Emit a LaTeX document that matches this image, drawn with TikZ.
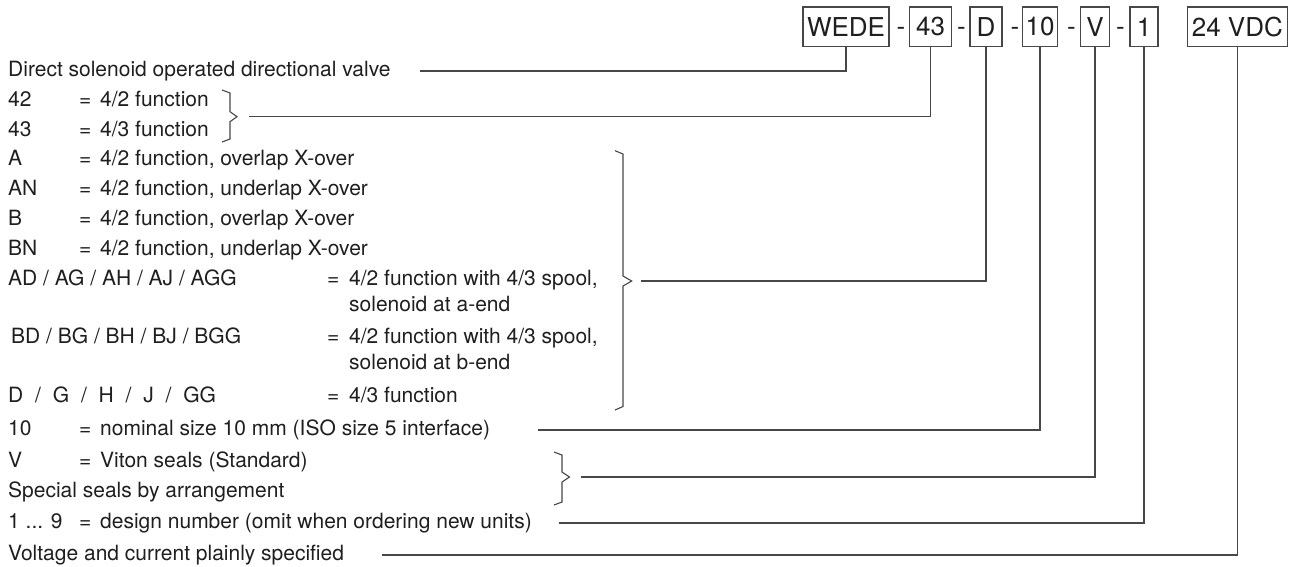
\documentclass[tikz,border=0pt]{standalone}
\usepackage{fontspec}
\setmainfont{TeX Gyre Heros}
\definecolor{textc}{gray}{0.12}
\definecolor{linec}{gray}{0.28}
\tikzset{
 txt/.style={anchor=base west, inner sep=0pt, font=\fontsize{21}{25}\selectfont, text=textc},
 codebox/.style={draw=linec, line width=1.1pt, inner xsep=3pt, inner ysep=0pt, minimum height=39.7pt, font=\fontsize{26}{30}\selectfont, text=textc},
 sepdash/.style={anchor=base, inner sep=0pt, font=\fontsize{26}{30}\selectfont, text=textc},
 conn/.style={draw=linec, line width=1.1pt},
 brace/.style={draw=linec, line width=1.1pt, line join=miter}
}
\begin{document}
\begin{tikzpicture}[x=1pt,y=-1pt]
\useasboundingbox (0,0) rectangle (1294,566);
% code boxes
\node[codebox, minimum width=86pt] (bW) at (846,26.8) {WEDE};
\node[codebox, minimum width=42pt] (b43) at (930.5,26.8) {43};
\node[codebox, minimum width=32pt] (bD) at (986,26.8) {D};
\node[codebox, minimum width=34pt] (b10) at (1040,26.8) {10};
\node[codebox, minimum width=29pt] (bV) at (1095,26.8) {V};
\node[codebox, minimum width=28pt] (b1) at (1144,26.8) {1};
\node[codebox, minimum width=100pt] (b24) at (1237.3,26.8) {24 VDC};
\node[sepdash] (d1) at (901,35) {-};
\node[sepdash] (d2) at (961.5,35) {-};
\node[sepdash] (d3) at (1015,35) {-};
\node[sepdash] (d4) at (1071.5,35) {-};
\node[sepdash] (d5) at (1120.5,35) {-};
% texts
\node[txt] (tDir) at (8,76) {Direct solenoid operated directional valve};
\node[txt] (t42a) at (8,106) {42};
\node[txt] (t42b) at (79,106) {=};
\node[txt] (t42c) at (100,106) {4/2 function};
\node[txt] (t43a) at (8,136) {43};
\node[txt] (t43b) at (79,136) {=};
\node[txt] (t43c) at (100,136) {4/3 function};
\node[txt] (tAa) at (8,165) {A};
\node[txt] (tAb) at (79,165) {=};
\node[txt] (tAc) at (100,165) {4/2 function, overlap X-over};
\node[txt] (tANa) at (8,195) {AN};
\node[txt] (tANb) at (79,195) {=};
\node[txt] (tANc) at (100,195) {4/2 function, underlap X-over};
\node[txt] (tBa) at (8,225) {B};
\node[txt] (tBb) at (79,225) {=};
\node[txt] (tBc) at (100,225) {4/2 function, overlap X-over};
\node[txt] (tBNa) at (8,255) {BN};
\node[txt] (tBNb) at (79,255) {=};
\node[txt] (tBNc) at (100,255) {4/2 function, underlap X-over};
\node[txt] (tADa) at (8,285) {AD / AG / AH / AJ / AGG};
\node[txt] (tADb) at (327,285) {=};
\node[txt] (tADc) at (349,285) {4/2 function with 4/3 spool,};
\node[txt] (tADd) at (349,311) {solenoid at a-end};
\node[txt] (tBDa) at (11,343) {BD / BG / BH / BJ / BGG};
\node[txt] (tBDb) at (327,343) {=};
\node[txt] (tBDc) at (349,343) {4/2 function with 4/3 spool,};
\node[txt] (tBDd) at (349,369) {solenoid at b-end};
\node[txt] (tDGa) at (8,402) {D\hspace{6pt} / \hspace{6pt}G\hspace{6pt} / \hspace{6pt}H\hspace{6pt} / \hspace{6pt}J\hspace{6pt} / \hspace{6pt}GG};
\node[txt] (tDGb) at (327,402) {=};
\node[txt] (tDGc) at (349,402) {4/3 function};
\node[txt] (t10a) at (8,435) {10};
\node[txt] (t10b) at (79,435) {=};
\node[txt] (t10c) at (100,435) {nominal size 10 mm (ISO size 5 interface)};
\node[txt] (tVa) at (8,467) {V};
\node[txt] (tVb) at (79,467) {=};
\node[txt] (tVc) at (100,467) {Viton seals (Standard)};
\node[txt] (tSp) at (8,497) {Special seals by arrangement};
\node[txt] (t19a) at (8,528) {1 ... 9};
\node[txt] (t19b) at (79,528) {=};
\node[txt] (t19c) at (100,528) {design number (omit when ordering new units)};
\node[txt] (tVolt) at (8,560) {Voltage and current plainly specified};
% braces
\draw[brace] (222,90) -- (230,93) -- (230,111.7) -- (237,116.7) -- (230,121.7) -- (230,139) -- (222,142);
\draw[brace] (615,150.7) -- (623,154) -- (623,276) -- (631.7,281) -- (623,286) -- (623,406.5) -- (615,410);
\draw[brace] (554,452) -- (562,455) -- (562,472) -- (569.5,477) -- (562,482) -- (562,502) -- (554,505);
% connectors
\coordinate (cW) at (420,71);
\coordinate (c43) at (249,116.7);
\coordinate (cD) at (641,281);
\coordinate (c10) at (538,430);
\coordinate (cV) at (581,477);
\coordinate (c1) at (559,523);
\coordinate (c24) at (382,555);
\draw[conn] (cW) -| (bW.south);
\draw[conn] (c43) -| (b43.south);
\draw[conn] (cD) -| (bD.south);
\draw[conn] (c10) -| (b10.south);
\draw[conn] (cV) -| (bV.south);
\draw[conn] (c1) -| (b1.south);
\draw[conn] (c24) -| (b24.south);
\end{tikzpicture}
\end{document}
